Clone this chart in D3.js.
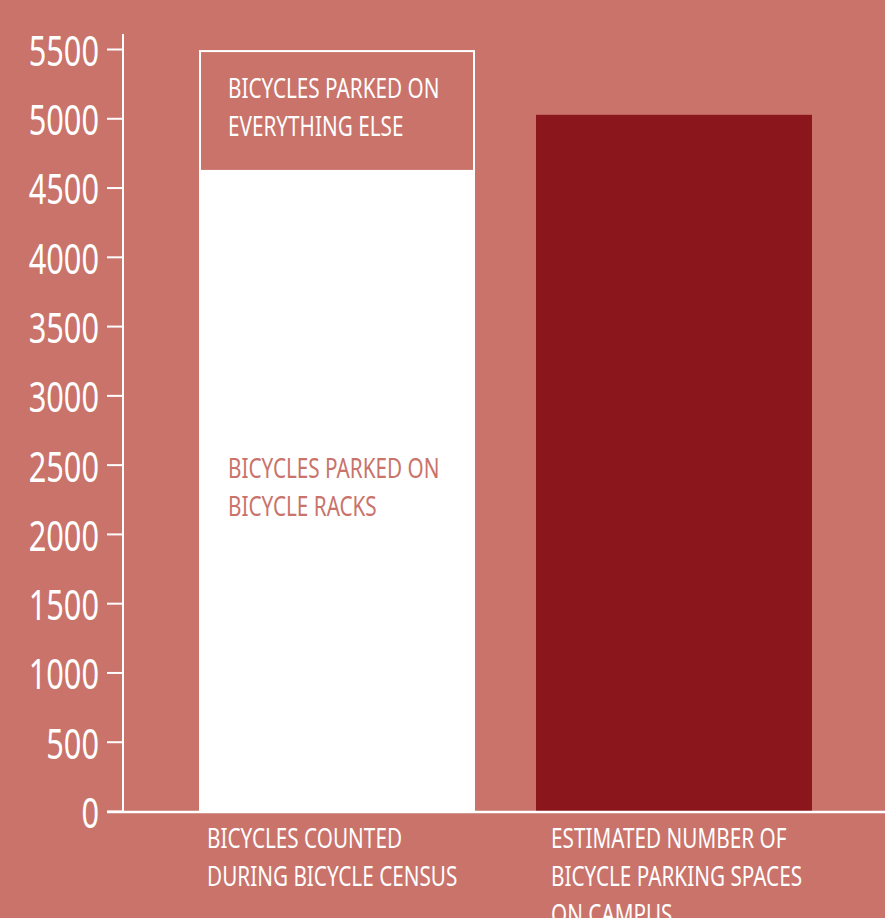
<!DOCTYPE html>
<meta charset="utf-8">
<script src="https://d3js.org/d3.v7.min.js"></script>
<style>
  body { margin: 0; background: #c9736b; }
  text { font-family: "Noto Sans", "DejaVu Sans Condensed", sans-serif; }
</style>
<body>
<div id="my_dataviz"></div>
<script>
  // data
  var categories = ["census", "spaces"];
  var categoryLabels = [
    ["BICYCLES COUNTED", "DURING BICYCLE CENSUS"],
    ["ESTIMATED NUMBER OF", "BICYCLE PARKING SPACES", "ON CAMPUS"]
  ];
  var onRacks = [4620, 0];
  var onEverythingElse = [865, 0];
  var parkingSpaces = [0, 5025];
  var yTicks = [0, 500, 1000, 1500, 2000, 2500, 3000, 3500, 4000, 4500, 5000, 5500];

  var width = 885, height = 918;
  var bg = "#c9736b", dark = "#8b161b";
  var squeeze = 0.74;   // fake a condensed face

  var svg = d3.select("#my_dataviz")
    .append("svg")
    .attr("width", width)
    .attr("height", height)
    .style("display", "block");

  svg.append("rect").attr("width", width).attr("height", height).attr("fill", bg);

  var y = d3.scaleLinear().domain([0, 5500]).range([811, 49]);
  var x = d3.scaleBand().domain(categories)
    .range([168, 843]).paddingInner(0.181).paddingOuter(0.092);

  // multi-line condensed text block
  function label(px, py, lines, color) {
    var t = svg.append("text")
      .attr("fill", color)
      .attr("font-size", 28)
      .attr("transform", "translate(" + px + "," + py + ") scale(" + squeeze + ",1)");
    lines.forEach(function (line, j) {
      t.append("tspan").attr("x", 0).attr("y", j * 38).text(line);
    });
  }

  // stacked census bar
  var i0 = 0;
  svg.append("rect")
    .attr("x", x(categories[0]))
    .attr("y", y(onRacks[i0]))
    .attr("width", x.bandwidth())
    .attr("height", y(0) - y(onRacks[i0]))
    .attr("fill", "#fff");
  svg.append("rect")
    .attr("x", x(categories[0]) + 1)
    .attr("y", y(onRacks[i0] + onEverythingElse[i0]))
    .attr("width", x.bandwidth() - 2)
    .attr("height", y(onRacks[i0]) - y(onRacks[i0] + onEverythingElse[i0]))
    .attr("fill", bg)
    .attr("stroke", "#fff")
    .attr("stroke-width", 2);

  // parking spaces bar
  svg.append("rect")
    .attr("x", x(categories[1]))
    .attr("y", y(parkingSpaces[1]))
    .attr("width", x.bandwidth())
    .attr("height", y(0) - y(parkingSpaces[1]))
    .attr("fill", dark);

  // in-bar labels
  var bx = x(categories[0]) + 29;
  label(bx, 98, ["BICYCLES PARKED ON", "EVERYTHING ELSE"], "#fff");
  label(bx, 478, ["BICYCLES PARKED ON", "BICYCLE RACKS"], bg);

  // y axis
  var yAxis = svg.append("g")
    .attr("transform", "translate(123,0)")
    .call(d3.axisLeft(y).tickValues(yTicks).tickFormat(d3.format("d")).tickSize(16).tickPadding(8));
  yAxis.select(".domain").remove();
  yAxis.selectAll(".tick line").attr("stroke", "#fff").attr("stroke-width", 2);
  yAxis.selectAll(".tick text")
    .attr("fill", "#fff")
    .attr("font-size", 41)
    .attr("font-family", "'Noto Sans', sans-serif")
    .attr("x", 0)
    .attr("dy", "0.4em")
    .attr("transform", "translate(-24,0) scale(0.75,1)");

  svg.append("line").attr("x1", 123).attr("x2", 123).attr("y1", 34).attr("y2", 812)
    .attr("stroke", "#fff").attr("stroke-width", 2);
  svg.append("line").attr("x1", 107).attr("x2", width).attr("y1", 812).attr("y2", 812)
    .attr("stroke", "#fff").attr("stroke-width", 2.5);

  // category labels
  categories.forEach(function (c, i) {
    label(x(c) + (i == 0 ? 8 : 15), 848, categoryLabels[i], "#fff");
  });
</script>
</body>
